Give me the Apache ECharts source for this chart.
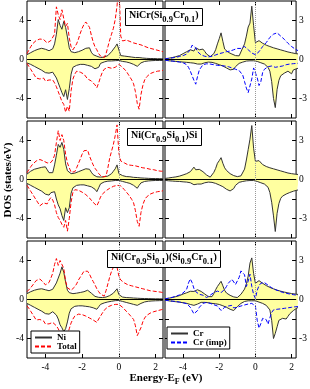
<!DOCTYPE html>
<html><head><meta charset="utf-8">
<script src="https://cdn.jsdelivr.net/npm/echarts@6/dist/echarts.min.js"></script>
<style>html,body{margin:0;padding:0;background:#fff}#c{width:310px;height:389px}</style>
</head><body><div id="c"></div>
<script>
// ---------- data ----------
const energy = [-5.0,-4.9,-4.8,-4.7,-4.6,-4.5,-4.4,-4.3,-4.2,-4.1,
 -4.0,-3.9,-3.8,-3.7,-3.6,-3.5,-3.4,-3.3,-3.2,-3.1,
 -3.0,-2.9,-2.8,-2.7,-2.6,-2.5,-2.4,-2.3,-2.2,-2.1,
 -2.0,-1.9,-1.8,-1.7,-1.6,-1.5,-1.4,-1.3,-1.2,-1.1,
 -1.0,-0.9,-0.8,-0.7,-0.6,-0.5,-0.4,-0.3,-0.2,-0.1,
 0.0,0.1,0.2,0.3,0.4,0.5,0.6,0.7,0.8,0.9,
 1.0,1.1,1.2,1.3,1.4,1.5,1.6,1.7,1.8,1.9,
 2.0,2.1,2.2,2.3,2.4];

// Panel 1: NiCr(Si0.9Cr0.1)
const ni1Up = [0.5,0.6,0.7,0.8,0.9,1.0,1.05,1.15,1.15,1.1,
 1.05,1.0,0.9,0.85,1.1,1.6,2.6,4.1,3.5,3.1,
 3.9,3.3,2.3,1.2,0.8,0.7,0.7,0.75,0.8,0.85,
 0.95,1.05,1.15,1.3,1.2,0.75,0.5,0.4,0.34,0.28,
 0.2,0.2,0.25,0.3,0.4,0.6,0.8,1.0,1.3,1.6,
 1.8,0.4,0.35,0.35,0.35,0.3,0.3,0.25,0.25,0.2,
 0.2,0.2,0.15,0.15,0.15,0.12,0.12,0.1,0.1,0.1,
 0.1,0.08,0.08,0.08,0.08];
const ni1Dn = [-0.35,-0.4,-0.5,-0.6,-0.7,-0.8,-0.9,-1.0,-1.1,-1.2,
 -1.35,-1.55,-1.4,-1.2,-1.3,-1.5,-1.9,-2.4,-2.9,-3.4,
 -3.8,-3.1,-4.1,-3.0,-1.5,-0.8,-0.65,-0.6,-0.55,-0.5,
 -0.5,-0.5,-0.55,-0.6,-0.65,-0.7,-0.8,-0.95,-1.15,-0.8,
 -0.4,-0.3,-0.25,-0.2,-0.15,-0.15,-0.15,-0.15,-0.12,-0.1,
 -0.1,-0.15,-0.2,-0.2,-0.25,-0.3,-0.35,-0.4,-0.5,-0.6,
 -0.7,-0.55,-0.35,-0.25,-0.2,-0.18,-0.15,-0.15,-0.12,-0.12,
 -0.1,-0.1,-0.1,-0.1,-0.1];
const tot1Up = [0.6,0.95,1.3,1.6,1.8,1.95,2.05,2.1,2.1,2.05,
 1.85,1.7,1.8,1.95,2.1,2.6,5.4,4.6,4.1,5.1,
 4.2,3.4,3.7,2.2,1.3,1.0,1.2,1.6,2.1,2.7,
 3.2,3.6,3.85,3.9,3.3,2.5,1.8,1.3,1.0,0.6,
 0.35,0.2,0.2,0.6,1.3,2.0,2.6,3.2,4.1,5.5,
 8.0,2.4,1.9,2.0,2.0,1.95,1.85,1.8,1.7,1.65,
 1.6,1.55,1.5,1.45,1.35,1.3,1.2,1.15,1.1,1.05,
 1.0,0.95,0.9,0.85,0.8];
const tot1Dn = [-0.4,-0.7,-1.0,-1.3,-1.6,-1.9,-2.05,-2.0,-1.85,-1.9,
 -2.2,-2.4,-2.1,-1.9,-2.1,-2.4,-2.8,-3.3,-3.8,-4.3,
 -4.6,-5.4,-4.8,-5.3,-3.2,-2.0,-1.5,-1.2,-1.2,-1.3,
 -1.4,-1.5,-1.7,-2.0,-2.1,-2.2,-2.4,-2.6,-2.9,-2.4,
 -1.8,-1.3,-1.0,-0.85,-0.8,-0.85,-0.9,-0.9,-0.8,-0.6,
 -0.5,-0.6,-0.8,-1.0,-1.2,-1.5,-1.8,-2.1,-2.5,-3.3,
 -4.5,-5.1,-3.6,-2.7,-2.1,-1.8,-1.6,-1.45,-1.35,-1.3,
 -1.25,-1.2,-1.2,-1.15,-1.1];
const cr1Up = [0.05,0.07,0.1,0.12,0.15,0.18,0.22,0.26,0.3,0.36,
 0.45,0.52,0.6,0.68,0.75,0.68,0.65,0.9,0.78,0.75,
 0.9,0.8,0.62,0.42,0.3,0.22,0.2,0.45,0.75,1.2,
 1.6,2.05,1.4,0.8,0.65,0.55,0.5,0.42,0.37,0.3,
 0.25,0.28,0.4,0.9,1.2,1.8,2.5,2.8,4.1,2.6,
 1.3,1.4,1.45,1.35,1.25,1.15,1.1,1.05,1.0,0.95,
 0.9,0.86,0.82,0.78,0.74,0.7,0.66,0.62,0.58,0.55,
 0.52,0.49,0.46,0.44,0.42];
const cr1Dn = [-0.05,-0.07,-0.1,-0.1,-0.12,-0.13,-0.15,-0.15,-0.17,-0.18,
 -0.2,-0.2,-0.22,-0.22,-0.25,-0.25,-0.28,-0.3,-0.35,-0.4,
 -0.35,-0.28,-0.25,-0.22,-0.2,-0.2,-0.22,-0.25,-0.3,-0.35,
 -0.4,-0.45,-0.5,-0.6,-0.65,-0.7,-0.8,-0.85,-0.75,-0.55,
 -0.4,-0.3,-0.25,-0.2,-0.15,-0.12,-0.1,-0.1,-0.1,-0.1,
 -0.12,-0.15,-0.2,-0.25,-0.3,-0.35,-0.45,-0.6,-0.9,-1.7,
 -3.0,-3.7,-2.3,-1.6,-1.25,-1.1,-1.05,-0.95,-0.9,-1.05,
 -1.1,-0.8,-0.75,-0.7,-0.65];
const imp1Up = [0.05,0.06,0.08,0.1,0.12,0.14,0.17,0.2,0.23,0.27,
 0.3,0.35,0.42,0.55,0.75,1.1,1.25,0.9,0.6,0.45,
 0.35,0.3,0.25,0.22,0.2,0.22,0.25,0.3,0.35,0.4,
 0.45,0.5,0.52,0.55,0.6,0.62,0.65,0.7,0.75,0.8,
 0.85,0.8,0.85,0.95,1.0,0.9,0.75,0.6,0.5,0.45,
 0.37,0.45,0.6,0.8,1.0,1.15,1.3,1.5,1.7,1.85,
 1.95,2.0,2.05,1.95,1.8,1.7,1.55,1.4,1.25,1.1,
 1.0,0.9,0.8,0.72,0.65];
const imp1Dn = [-0.05,-0.06,-0.08,-0.1,-0.12,-0.13,-0.15,-0.17,-0.2,-0.22,
 -0.25,-0.3,-0.4,-0.6,-0.9,-1.25,-1.6,-1.9,-1.3,-0.8,
 -0.6,-0.4,-0.35,-0.33,-0.33,-0.35,-0.37,-0.4,-0.42,-0.45,
 -0.45,-0.47,-0.5,-0.5,-0.52,-0.55,-0.6,-0.65,-0.7,-0.75,
 -0.8,-0.85,-0.9,-1.2,-1.7,-2.2,-2.55,-2.5,-1.5,-0.65,
 -0.8,-1.4,-2.0,-1.7,-1.0,-0.75,-0.62,-0.55,-0.52,-0.5,
 -0.55,-0.6,-0.6,-0.55,-0.5,-0.5,-0.45,-0.4,-0.35,-0.35,
 -0.33,-0.32,-0.3,-0.3,-0.28];

// Panel 2: Ni(Cr0.9Si0.1)Si
const ni2Up = [0.55,0.7,0.85,0.95,1.05,1.1,1.15,1.2,1.25,1.28,
 1.3,1.0,0.7,0.6,0.7,1.5,2.5,3.6,3.3,3.8,
 3.1,1.6,0.9,0.7,0.6,0.6,0.65,0.75,0.8,0.85,
 0.95,1.0,1.1,1.2,1.05,0.75,0.5,0.35,0.28,0.25,
 0.25,0.25,0.28,0.3,0.35,0.45,0.6,0.85,1.1,1.5,
 0.6,0.45,0.4,0.35,0.3,0.3,0.28,0.25,0.22,0.2,
 0.2,0.18,0.16,0.15,0.14,0.13,0.12,0.11,0.1,0.1,
 0.1,0.09,0.09,0.08,0.08];
const ni2Dn = [-0.4,-0.5,-0.6,-0.7,-0.8,-0.9,-1.0,-1.1,-1.2,-1.35,
 -1.5,-1.7,-1.6,-1.35,-1.3,-1.25,-2.0,-2.6,-3.0,-3.7,
 -4.2,-2.9,-3.4,-2.9,-1.4,-0.85,-0.65,-0.6,-0.55,-0.55,
 -0.55,-0.55,-0.6,-0.65,-0.7,-0.75,-0.85,-1.0,-1.25,-0.85,
 -0.45,-0.3,-0.25,-0.2,-0.18,-0.15,-0.15,-0.12,-0.1,-0.08,
 -0.1,-0.15,-0.2,-0.25,-0.3,-0.35,-0.4,-0.5,-0.6,-0.75,
 -0.9,-0.6,-0.35,-0.25,-0.2,-0.18,-0.15,-0.15,-0.12,-0.12,
 -0.1,-0.1,-0.1,-0.1,-0.1];
const tot2Up = [0.7,1.0,1.3,1.55,1.75,1.9,2.0,2.05,2.0,1.9,
 1.8,1.7,1.65,1.75,2.0,2.5,3.8,5.0,4.0,4.6,
 4.0,2.6,1.7,1.2,0.75,0.55,0.8,1.2,1.65,2.1,
 2.6,2.95,3.1,3.0,2.4,1.95,1.5,1.15,0.9,0.6,
 0.4,0.25,0.2,0.35,1.2,2.2,2.9,3.6,4.5,5.6,
 2.7,1.9,1.8,1.7,1.6,1.5,1.5,1.45,1.4,1.4,
 1.35,1.3,1.25,1.2,1.2,1.15,1.1,1.05,1.0,1.0,
 0.95,0.9,0.9,0.85,0.85];
const tot2Dn = [-0.6,-0.9,-1.2,-1.5,-1.8,-2.1,-2.4,-2.7,-2.5,-2.4,
 -2.5,-2.5,-2.1,-1.85,-2.1,-2.6,-3.4,-3.9,-4.2,-4.6,
 -4.9,-4.2,-5.3,-4.0,-2.3,-1.3,-1.05,-1.0,-1.1,-1.2,
 -1.3,-1.4,-1.55,-1.7,-1.9,-2.1,-2.35,-2.55,-2.7,-2.3,
 -1.8,-1.5,-1.3,-1.15,-1.0,-0.9,-0.8,-0.7,-0.65,-0.6,
 -0.55,-0.65,-0.85,-1.05,-1.25,-1.5,-1.75,-2.05,-2.4,-3.2,
 -4.3,-4.8,-3.4,-2.6,-2.1,-1.8,-1.6,-1.5,-1.4,-1.35,
 -1.3,-1.25,-1.2,-1.2,-1.15];
const cr2Up = [0.08,0.1,0.12,0.14,0.16,0.18,0.2,0.23,0.26,0.3,
 0.35,0.4,0.45,0.52,0.6,0.72,0.95,0.75,0.7,0.78,
 0.72,0.6,0.45,0.35,0.25,0.18,0.3,0.55,0.85,1.25,
 1.45,1.68,1.25,0.9,0.7,0.55,0.45,0.38,0.3,0.25,
 0.22,0.22,0.28,0.4,0.8,1.5,2.3,3.1,4.15,2.4,
 1.4,1.4,1.45,1.3,1.15,1.05,1.0,0.95,0.9,0.86,
 0.82,0.78,0.74,0.7,0.66,0.62,0.58,0.53,0.5,0.48,
 0.45,0.43,0.41,0.4,0.38];
const cr2Dn = [-0.07,-0.08,-0.1,-0.1,-0.12,-0.12,-0.14,-0.15,-0.15,-0.17,
 -0.18,-0.2,-0.2,-0.22,-0.25,-0.3,-0.4,-0.5,-0.35,-0.28,
 -0.35,-0.3,-0.25,-0.22,-0.2,-0.2,-0.22,-0.25,-0.3,-0.35,
 -0.42,-0.5,-0.55,-0.65,-0.75,-0.8,-0.88,-0.9,-0.7,-0.45,
 -0.3,-0.22,-0.18,-0.15,-0.12,-0.1,-0.08,-0.08,-0.08,-0.08,
 -0.1,-0.15,-0.2,-0.25,-0.3,-0.35,-0.45,-0.6,-1.0,-1.75,
 -2.8,-4.0,-2.6,-1.85,-1.45,-1.28,-1.2,-1.12,-1.05,-1.0,
 -0.95,-0.9,-0.85,-0.82,-0.8];

// Panel 3: Ni(Cr0.9Si0.1)(Si0.9Cr0.1)
const ni3Up = [0.6,0.7,0.8,0.9,0.95,1.0,1.05,1.1,1.1,1.05,
 1.0,0.95,0.9,0.95,1.05,1.2,1.7,2.2,2.7,3.35,
 2.8,1.8,0.95,0.7,0.6,0.6,0.62,0.65,0.7,0.72,
 0.75,0.8,0.88,0.95,0.9,0.65,0.45,0.32,0.27,0.22,
 0.2,0.2,0.22,0.25,0.3,0.4,0.5,0.65,0.85,1.1,
 0.5,0.3,0.25,0.22,0.2,0.2,0.18,0.16,0.15,0.14,
 0.13,0.12,0.11,0.1,0.1,0.09,0.09,0.08,0.08,0.08,
 0.07,0.07,0.07,0.06,0.06];
const ni3Dn = [-0.4,-0.5,-0.6,-0.7,-0.8,-0.9,-1.0,-1.1,-1.2,-1.3,
 -1.45,-1.6,-1.5,-1.3,-1.25,-1.3,-1.6,-2.0,-2.6,-2.9,
 -3.3,-3.0,-2.3,-1.4,-0.95,-0.75,-0.7,-0.65,-0.65,-0.65,
 -0.65,-0.65,-0.7,-0.7,-0.75,-0.8,-0.85,-0.9,-1.0,-0.75,
 -0.5,-0.4,-0.35,-0.3,-0.25,-0.2,-0.18,-0.15,-0.12,-0.1,
 -0.1,-0.15,-0.2,-0.25,-0.3,-0.35,-0.4,-0.45,-0.5,-0.55,
 -0.6,-0.5,-0.4,-0.3,-0.25,-0.2,-0.18,-0.16,-0.15,-0.14,
 -0.13,-0.12,-0.12,-0.11,-0.1];
const tot3Up = [0.8,1.0,1.2,1.4,1.7,1.95,2.15,2.1,2.0,1.75,
 1.5,1.6,1.75,2.2,2.7,3.6,4.2,3.5,4.0,4.2,
 3.2,1.9,1.2,1.0,0.95,1.05,1.3,1.6,2.0,2.3,
 2.6,2.9,3.0,2.9,2.6,2.2,1.85,1.5,1.1,0.8,
 0.55,0.38,0.35,0.9,1.6,2.3,2.9,3.3,3.4,3.3,
 2.4,2.0,1.8,1.7,1.6,1.5,1.45,1.4,1.35,1.3,
 1.25,1.2,1.15,1.1,1.05,1.0,0.95,0.9,0.9,0.85,
 0.8,0.8,0.75,0.75,0.7];
const tot3Dn = [-0.65,-0.9,-1.2,-1.5,-1.8,-2.1,-2.2,-2.05,-2.0,-2.2,
 -2.5,-2.7,-2.5,-2.3,-2.35,-2.5,-2.7,-3.0,-3.4,-3.7,
 -3.9,-4.05,-3.6,-3.0,-2.4,-2.0,-1.7,-1.6,-1.5,-1.5,
 -1.55,-1.6,-1.7,-1.8,-1.9,-2.0,-2.1,-2.2,-2.35,-2.0,
 -1.7,-1.4,-1.1,-0.9,-0.75,-0.65,-0.6,-0.55,-0.5,-0.5,
 -0.5,-0.6,-0.8,-1.0,-1.2,-1.4,-1.6,-1.8,-2.05,-2.7,
 -3.7,-3.6,-2.9,-2.3,-1.9,-1.65,-1.5,-1.4,-1.3,-1.25,
 -1.2,-1.15,-1.1,-1.05,-1.0];
const cr3Up = [0.05,0.07,0.1,0.12,0.15,0.18,0.22,0.26,0.3,0.36,
 0.42,0.48,0.52,0.58,0.63,0.65,0.62,0.65,0.75,0.72,
 0.62,0.52,0.42,0.32,0.22,0.17,0.22,0.45,0.75,1.0,
 1.2,1.4,1.05,0.7,0.5,0.4,0.32,0.25,0.2,0.15,
 0.15,0.2,0.4,0.6,0.8,1.2,1.8,2.8,3.2,2.0,
 1.25,1.3,1.45,1.35,1.25,1.15,1.07,1.0,0.93,0.87,
 0.82,0.77,0.72,0.68,0.64,0.6,0.57,0.54,0.51,0.48,
 0.46,0.44,0.42,0.4,0.38];
const cr3Dn = [-0.05,-0.07,-0.1,-0.12,-0.14,-0.15,-0.17,-0.18,-0.2,-0.22,
 -0.25,-0.27,-0.3,-0.33,-0.38,-0.45,-0.45,-0.42,-0.35,-0.28,
 -0.22,-0.22,-0.22,-0.25,-0.25,-0.28,-0.3,-0.3,-0.33,-0.35,
 -0.38,-0.42,-0.48,-0.55,-0.6,-0.68,-0.75,-0.82,-0.85,-0.7,
 -0.55,-0.4,-0.3,-0.22,-0.15,-0.12,-0.1,-0.1,-0.1,-0.1,
 -0.1,-0.15,-0.2,-0.25,-0.3,-0.38,-0.45,-0.55,-0.8,-1.6,
 -3.0,-2.6,-2.1,-1.6,-1.45,-1.45,-1.5,-1.5,-1.3,-1.1,
 -0.95,-0.85,-0.7,-0.65,-0.6];
const imp3Up = [0.05,0.07,0.1,0.13,0.17,0.2,0.25,0.3,0.35,0.42,
 0.5,0.62,0.8,1.28,1.58,1.3,0.85,0.6,0.45,0.4,
 0.36,0.33,0.3,0.15,0.25,0.33,0.45,0.53,0.6,0.65,
 0.6,0.53,0.6,0.78,1.0,1.25,1.4,1.55,1.58,1.15,
 1.1,1.7,2.2,2.3,1.9,1.0,1.4,1.95,1.0,0.4,
 0.08,0.7,1.07,1.25,1.33,1.3,1.2,1.1,1.0,0.9,
 0.82,0.76,0.7,0.65,0.6,0.55,0.52,0.48,0.45,0.42,
 0.4,0.37,0.35,0.33,0.32];
const imp3Dn = [-0.05,-0.07,-0.08,-0.1,-0.12,-0.13,-0.15,-0.17,-0.2,-0.22,
 -0.25,-0.28,-0.32,-0.45,-0.6,-0.85,-1.1,-1.2,-0.85,-0.6,
 -0.45,-0.3,-0.22,-0.22,-0.25,-0.3,-0.35,-0.4,-0.45,-0.5,
 -0.6,-0.85,-0.75,-0.6,-0.65,-0.5,-0.38,-0.45,-0.65,-0.72,
 -0.6,-0.55,-0.5,-0.45,-0.42,-0.38,-0.35,-0.32,-0.3,-0.3,
 -0.5,-1.6,-2.2,-1.85,-1.45,-1.3,-1.55,-1.9,-1.4,-1.0,
 -0.8,-0.78,-0.75,-0.73,-0.72,-0.7,-0.68,-0.66,-0.64,-0.62,
 -0.6,-0.58,-0.56,-0.55,-0.54];

// ticks and labels
const xTicks = [-4, -2, 0, 2];
const leftYTicks = [-4, -2, 0, 2, 4];
const leftYLabels = [-4, 0, 4];
const rightYTicks = [-3, -1.5, 0, 1.5, 3];
const rightYLabels = [-3, 0, 3];
const panelTitles = [
  '{b|NiCr(Si}{s|0.9}{b|Cr}{s|0.1}{b|)}',
  '{b|Ni(Cr}{s|0.9}{b|Si}{s|0.1}{b|)Si}',
  '{b|Ni(Cr}{s|0.9}{b|Si}{s|0.1}{b|)(Si}{s|0.9}{b|Cr}{s|0.1}{b|)}'
];
const leftNames = ['Ni', 'Total'];
const rightNames = ['Cr', 'Cr (imp)'];

// ---------- chart ----------
const SERIF = "'Liberation Serif','DejaVu Serif',serif";
const pts = vals => energy.map((e, i) => [e, vals[i]]);
const rowTops = [1, 121, 241], rowH = 117;
const cols = [{left: 27, width: 136, max: 2.4}, {left: 165, width: 132, max: 2.25}];
const titleBoxes = [{left: 125, top: 5}, {left: 127, top: 125}, {left: 107, top: 247}];

const grid = [], xAxis = [], yAxis = [], series = [];
const tickStyle = {show: true, inside: true, length: 4, lineStyle: {color: '#000', width: 1}};
const labelFont = {fontFamily: SERIF, fontSize: 9.5, color: '#000'};
const noLine = {show: false, onZero: false};

const panels = [
  {left: [ni1Up, ni1Dn, tot1Up, tot1Dn], right: [cr1Up, cr1Dn, imp1Up, imp1Dn]},
  {left: [ni2Up, ni2Dn, tot2Up, tot2Dn], right: [cr2Up, cr2Dn]},
  {left: [ni3Up, ni3Dn, tot3Up, tot3Dn], right: [cr3Up, cr3Dn, imp3Up, imp3Dn]}
];

panels.forEach((p, r) => {
  [0, 1].forEach(c => {
    const g = grid.length;
    grid.push({left: cols[c].left, top: rowTops[r], width: cols[c].width, height: rowH,
      show: true, borderColor: '#000', borderWidth: 1, backgroundColor: 'transparent'});
    const xBase = {type: 'value', gridIndex: g, min: -5, max: cols[c].max,
      axisLine: noLine, splitLine: {show: false}};
    xAxis.push(Object.assign({}, xBase, {position: 'bottom',
      axisTick: Object.assign({customValues: xTicks}, tickStyle),
      axisLabel: Object.assign({show: r === 2, customValues: xTicks, margin: 4}, labelFont)}));
    xAxis.push(Object.assign({}, xBase, {position: 'top',
      axisTick: Object.assign({customValues: xTicks}, tickStyle),
      axisLabel: {show: false}}));
    const yr = c === 0 ? {min: -6, max: 6, ticks: leftYTicks, labels: leftYLabels, pos: 'left', opp: 'right'}
                       : {min: -4.5, max: 4.5, ticks: rightYTicks, labels: rightYLabels, pos: 'right', opp: 'left'};
    const yBase = {type: 'value', gridIndex: g, min: yr.min, max: yr.max,
      axisLine: noLine, splitLine: {show: false}};
    yAxis.push(Object.assign({}, yBase, {position: yr.pos,
      axisTick: Object.assign({customValues: yr.ticks}, tickStyle),
      axisLabel: Object.assign({customValues: yr.labels, margin: 3}, labelFont)}));
    yAxis.push(Object.assign({}, yBase, {position: yr.opp,
      axisTick: Object.assign({customValues: yr.ticks}, tickStyle),
      axisLabel: {show: false}}));

    const arrs = c === 0 ? p.left : p.right;
    const names = c === 0 ? leftNames : rightNames;
    const dashColor = c === 0 ? '#ff0000' : '#0000ff';
    arrs.forEach((a, k) => {
      const main = k < 2;
      const s = {
        type: 'line', name: main ? names[0] : names[1], xAxisIndex: 2 * g, yAxisIndex: 2 * g,
        data: pts(a), symbol: 'none', showSymbol: false, silent: true, animation: false,
        lineStyle: main ? {color: '#333', width: 1} : {color: dashColor, width: 1, type: [4, 2]},
        z: main ? 2 : 3
      };
      if (main) s.areaStyle = {color: '#ffffa0', opacity: 1, origin: 0};
      if (k === arrs.length - 1) {
        s.markLine = {silent: true, symbol: ['none', 'none'], label: {show: false}, animation: false,
          data: [
            {yAxis: 0, lineStyle: {color: '#000', width: 1, type: 'solid'}},
            {xAxis: 0, lineStyle: {color: '#999', width: 1, type: 'dotted'}}
          ]};
      }
      series.push(s);
    });
  });
});

const title = panelTitles.map((t, i) => ({
  text: t, left: titleBoxes[i].left, top: titleBoxes[i].top, padding: [2, 4, 2, 4],
  borderColor: '#000', borderWidth: 1, backgroundColor: '#fff',
  textStyle: {rich: {
    b: {fontFamily: SERIF, fontWeight: 'bold', fontSize: 10, color: '#000', lineHeight: 15},
    s: {fontFamily: SERIF, fontWeight: 'bold', fontSize: 8.5, color: '#000', padding: [8, 0, 0, 0]}
  }}
}));

const legendCommon = {orient: 'vertical', padding: [2, 3, 2, 3], itemGap: 0, itemWidth: 17, itemHeight: 9,
  borderColor: '#000', borderWidth: 1, backgroundColor: '#fff', selectedMode: false,
  itemStyle: {opacity: 0},
  textStyle: {fontFamily: SERIF, fontWeight: 'bold', fontSize: 9, color: '#000', lineHeight: 9}};
const legend = [
  Object.assign({left: 31, top: 331, data: leftNames}, legendCommon),
  Object.assign({left: 167, top: 327, data: rightNames}, legendCommon)
];

const graphic = [
  {type: 'text', x: 8, y: 180, rotation: Math.PI / 2, silent: true,
   style: {text: 'DOS (states/eV)', fontFamily: SERIF, fontWeight: 'bold', fontSize: 11, fill: '#000',
     align: 'center', verticalAlign: 'middle'}},
  {type: 'text', x: 166, y: 378, silent: true,
   style: {text: '{b|Energy-E}{s|F}{b| (eV)}', align: 'center', verticalAlign: 'middle',
     rich: {
       b: {fontFamily: SERIF, fontWeight: 'bold', fontSize: 11, fill: '#000', lineHeight: 14},
       s: {fontFamily: SERIF, fontWeight: 'bold', fontSize: 8, fill: '#000', padding: [7, 0, 0, 0]}
     }}}
];

const chart = echarts.init(document.getElementById('c'), null, {renderer: 'canvas'});
chart.setOption({animation: false, textStyle: {fontFamily: SERIF}, grid, xAxis, yAxis, series, title, legend, graphic});
</script></body></html>
